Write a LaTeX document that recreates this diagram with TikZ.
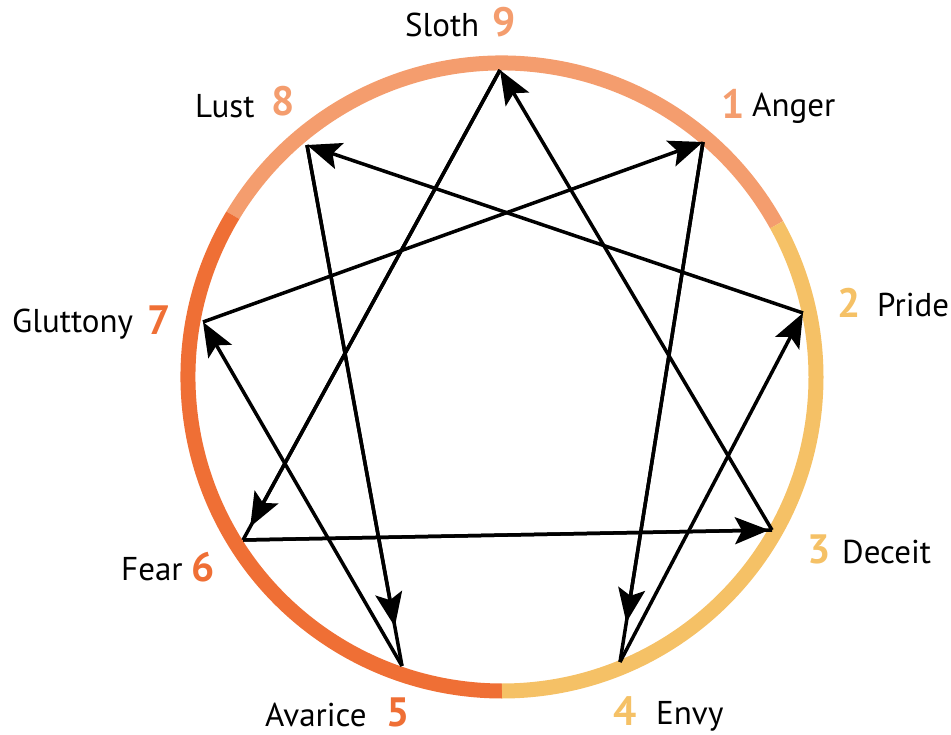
\documentclass[tikz,border=0pt]{standalone}
\usepackage{fontspec}
\setmainfont{PT Sans}
\usetikzlibrary{arrows.meta,calc}
\definecolor{csalmon}{RGB}{244,157,110}
\definecolor{cyellow}{RGB}{245,193,102}
\definecolor{corange}{RGB}{239,111,53}
\begin{document}
\begin{tikzpicture}[x=1pt,y=1pt,
  ring/.style={line width=15pt,line cap=butt},
  ln/.style={line width=3.5pt,black},
  arr/.style={-{Stealth[length=34pt 0 0,width=27pt 0 0,inset=7pt]}},
  lbl/.style={anchor=base west,inner sep=0pt,font=\fontsize{33}{36}\selectfont},
  num/.style={anchor=base west,inner sep=0pt,font=\fontsize{41}{44}\selectfont\bfseries}]
\useasboundingbox (0,0) rectangle (951,-735);
\coordinate (c) at (502,-377);
% ring
\draw[ring,csalmon] ([shift={(29:314pt)}]c) arc[start angle=29,end angle=149,radius=314pt];
\draw[ring,corange] ([shift={(149:314pt)}]c) arc[start angle=149,end angle=270,radius=314pt];
\draw[ring,cyellow] ([shift={(270:314pt)}]c) arc[start angle=270,end angle=389,radius=314pt];
% points
\coordinate (p9) at (500,-70);
\coordinate (p1) at (703,-142);
\coordinate (p2) at (803,-313);
\coordinate (p3) at (772,-530);
\coordinate (p4) at (620,-662);
\coordinate (p5) at (402,-666);
\coordinate (p6) at (243,-540);
\coordinate (p7) at (203,-322);
\coordinate (p8) at (307,-145);
% triangle 3 -> 9 -> 6 -> 3
\draw[ln,arr] (p3) -- (p9);
\draw[ln] (p9) -- (p6);
\draw[ln,arr] (p9) -- ($(p6)!15pt!(p9)$);
\draw[ln] (p6) -- (p3);
\draw[ln,arr] (p6) -- ($(p3)!3pt!(p6)$);
% hexad 1 -> 4 -> 2 -> 8 -> 5 -> 7 -> 1
\draw[ln] (p1) -- (p4);
\draw[ln,arr] (p1) -- ($(p4)!40pt!(p1)$);
\draw[ln,arr] (p4) -- (p2);
\draw[ln,arr] (p2) -- (p8);
\draw[ln] (p8) -- (p5);
\draw[ln,arr] (p8) -- ($(p5)!40pt!(p8)$);
\draw[ln,arr] (p5) -- (p7);
\draw[ln,arr] (p7) -- (p1);
% labels
\node[lbl] (t9) at (405,-37) {Sloth};
\node[num,text=csalmon] (n9) at (492,-37) {9};
\node[lbl] (t8) at (195,-118) {Lust};
\node[num,text=csalmon] (n8) at (271,-116) {8};
\node[num,text=csalmon] (n1) at (721,-119) {1};
\node[lbl] (t1) at (752,-117) {Anger};
\node[num,text=cyellow] (n2) at (837,-318) {2};
\node[lbl] (t2) at (877,-317) {Pride};
\node[lbl] (t7) at (12,-333) {Gluttony};
\node[num,text=corange] (n7) at (147,-335) {7};
\node[lbl] (t6) at (121,-580) {Fear};
\node[num,text=corange] (n6) at (191,-581) {6};
\node[num,text=cyellow] (n3) at (807,-563) {3};
\node[lbl] (t3) at (842,-563) {Deceit};
\node[lbl] (t5) at (265,-726) {Avarice};
\node[num,text=corange] (n5) at (386,-726) {5};
\node[num,text=cyellow] (n4) at (613,-725) {4};
\node[lbl] (t4) at (656,-724) {Envy};
\end{tikzpicture}
\end{document}
